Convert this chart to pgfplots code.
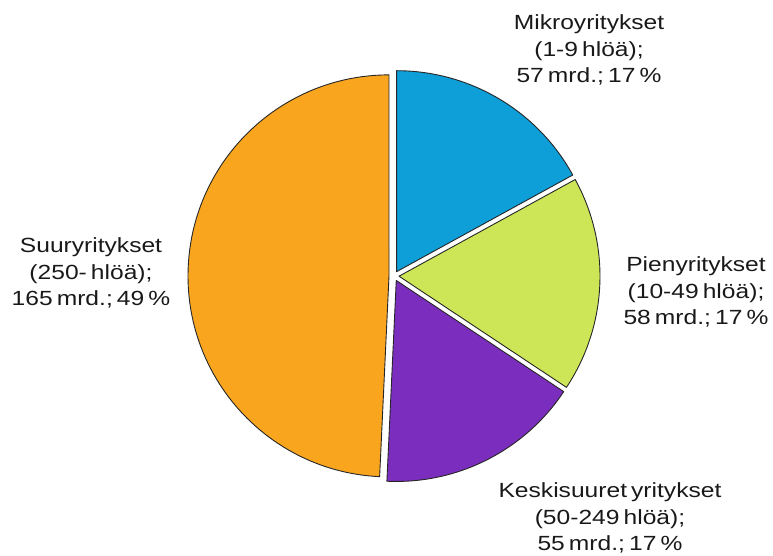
\documentclass[border=0pt]{standalone}
\usepackage{pgfplots}
\pgfplotsset{compat=1.18}
\usepackage{pgfplotstable}
\usepackage{fontspec}
\setmainfont{Liberation Sans}[FakeStretch=1.2, WordSpace=0.6]
\usetikzlibrary{calc}

\definecolor{cmikro}{RGB}{14,158,216}
\definecolor{cpieni}{RGB}{205,230,88}
\definecolor{ckeski}{RGB}{123,46,190}
\definecolor{csuuri}{RGB}{250,165,30}

% yritysten koko, mrd.
\pgfplotstableread{
koko value
Mikro 57
Pieni 58
Keski 55
Suuri 165
}\pietable

\pgfplotstablegetelem{0}{value}\of\pietable \pgfmathsetmacro\vA{\pgfplotsretval}
\pgfplotstablegetelem{1}{value}\of\pietable \pgfmathsetmacro\vB{\pgfplotsretval}
\pgfplotstablegetelem{2}{value}\of\pietable \pgfmathsetmacro\vC{\pgfplotsretval}
\pgfplotstablegetelem{3}{value}\of\pietable \pgfmathsetmacro\vD{\pgfplotsretval}
\pgfmathsetmacro\tot{\vA+\vB+\vC+\vD}
% angles, clockwise from the top
\pgfmathsetmacro\aA{90-360*(\vA/\tot)}
\pgfmathsetmacro\aB{\aA-360*(\vB/\tot)}
\pgfmathsetmacro\aC{\aB-360*(\vC/\tot)}
\pgfmathsetmacro\aD{\aC-360*(\vD/\tot)}

\newcommand\slice[3]{% colour, start, end
  \filldraw[fill=#1, draw=black!85, line width=0.9pt, line join=round]
    ($(axis cs:394,279)+({(#2+#3)/2}:5pt)$) -- ++(#2:201pt)
    arc[start angle=#2, end angle=#3, radius=201pt] -- cycle;}

\tikzset{lbl/.style={align=center, font=\fontsize{20.5}{26.5}\selectfont, text=black!90, inner sep=0pt}}

\begin{document}
\begin{tikzpicture}
\begin{axis}[name=ax,
  scale only axis, width=773pt, height=555pt,
  xmin=0, xmax=773, ymin=0, ymax=555,
  hide axis, clip=false,
]
\slice{cmikro}{90}{\aA}
\slice{cpieni}{\aA}{\aB}
\slice{ckeski}{\aB}{\aC}
\slice{csuuri}{\aC}{\aD}

\node[lbl] at (axis cs:589,505) {Mikroyritykset\\(1-9 hlöä);\\57 mrd.; 17 \%};
\node[lbl] at (axis cs:696,263) {Pienyritykset\\(10-49 hlöä);\\58 mrd.; 17 \%};
\node[lbl] at (axis cs:610,37) {Keskisuuret yritykset\\(50-249 hlöä);\\55 mrd.; 17 \%};
\node[lbl] at (axis cs:91,282) {Suuryritykset\\(250- hlöä);\\165 mrd.; 49 \%};
\end{axis}
\pgfresetboundingbox
\path (ax.south west) rectangle (ax.north east);
\end{tikzpicture}
\end{document}
